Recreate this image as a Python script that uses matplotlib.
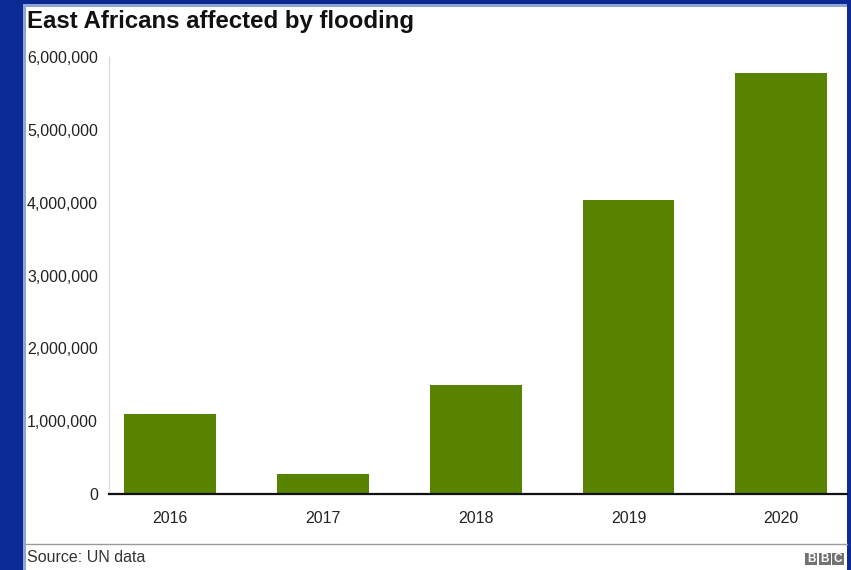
import matplotlib
matplotlib.use("Agg")
import matplotlib.pyplot as plt
from matplotlib.patches import Rectangle
from matplotlib.ticker import FuncFormatter

years = ["2016", "2017", "2018", "2019", "2020"]
affected = [1100000, 270000, 1490000, 4030000, 5780000]
y_ticks = [0, 1000000, 2000000, 3000000, 4000000, 5000000, 6000000]

W, H = 851, 570
plt.rcParams['font.family'] = ['Liberation Sans', 'DejaVu Sans']

fig = plt.figure(figsize=(W / 100, H / 100), dpi=100)
fig.patch.set_facecolor('#0b2a94')

# white card with a light rim on the left/top (kept behind the axes)
fig.patches.append(Rectangle((23 / W, 0), (847 - 23) / W, (H - 4) / H,
                             transform=fig.transFigure, facecolor='#8fa6d6',
                             edgecolor='none', zorder=-3))
fig.patches.append(Rectangle((26 / W, 0), (847 - 26) / W, (H - 7) / H,
                             transform=fig.transFigure, facecolor='white',
                             edgecolor='none', zorder=-2))

ax = fig.add_axes([109 / W, (H - 494) / H, (847 - 109) / W, (494 - 57) / H])
ax.set_facecolor('none')
ax.set_zorder(1)
ax.bar(range(len(years)), affected, width=0.6, color='#588300', zorder=2)

ax.set_xlim(-0.4, 4.43)
ax.set_ylim(0, 6000000)
ax.set_xticks(range(len(years)))
ax.set_xticklabels(years)
ax.set_yticks(y_ticks)
ax.yaxis.set_major_formatter(FuncFormatter(lambda v, p: f"{int(v):,}"))
ax.tick_params(axis='both', length=0, labelsize=11.5, colors='#222222')
ax.tick_params(axis='x', pad=12)
ax.tick_params(axis='y', pad=8)

for s in ['top', 'right']:
    ax.spines[s].set_visible(False)
ax.spines['left'].set_color('#dcdcdc')
ax.spines['left'].set_linewidth(1.0)
ax.spines['bottom'].set_color('#111111')
ax.spines['bottom'].set_linewidth(1.6)
ax.spines['bottom'].set_zorder(3)

fig.text(27 / W, 1 - 21.5 / H, "East Africans affected by flooding",
         fontsize=17.3, fontweight='bold', color='#111111', va='center', ha='left')

# footer rule and source
fig.add_artist(plt.Line2D([26 / W, 847 / W], [1 - 544 / H, 1 - 544 / H],
                          transform=fig.transFigure, color='#9a9a9a', lw=1.0))
fig.text(27 / W, 1 - 557 / H, "Source: UN data", fontsize=11.5, color='#333333',
         va='center', ha='left')

# BBC blocks
for i, letter in enumerate("BBC"):
    x0 = 805 + i * 13.5
    fig.patches.append(Rectangle((x0 / W, 1 - 565 / H), 12 / W, 12 / H,
                                 transform=fig.transFigure, facecolor='#727272',
                                 edgecolor='none'))
    fig.text((x0 + 6) / W, 1 - 559 / H, letter, fontsize=8.5, fontweight='bold',
             color='white', ha='center', va='center')

fig.savefig("out.png", dpi=100, facecolor=fig.get_facecolor())
